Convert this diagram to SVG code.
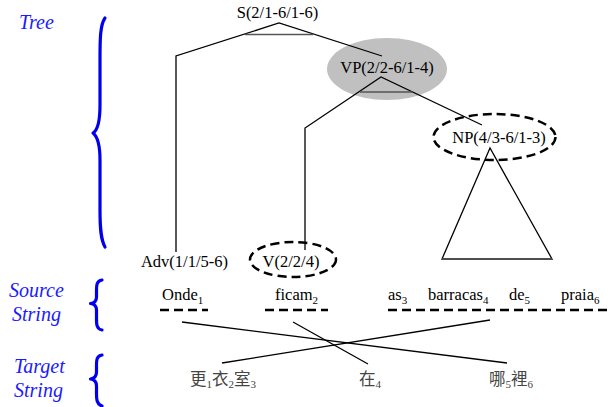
<svg xmlns="http://www.w3.org/2000/svg" width="610" height="407" viewBox="0 0 610 407">
<style>
.lbl{font-family:"Liberation Serif","Times New Roman",serif;font-size:16.5px;fill:#000}
.side{font-family:"Liberation Serif","Times New Roman",serif;font-size:20px;font-style:italic;fill:#1a1aff}
.word{font-family:"Liberation Serif","Times New Roman",serif;font-size:16.5px;fill:#000}
.tgt{font-family:"Liberation Serif","Noto Sans CJK TC",serif;font-size:16.5px;fill:#444}
.sub{font-size:11px}
.edge{fill:none;stroke:#000;stroke-width:1.3}
.bar{stroke:#555;stroke-width:1.5}
.dash{fill:none;stroke:#000;stroke-width:2.5;stroke-dasharray:9,5}
.brace{fill:none;stroke:#0000ee;stroke-width:3.2;stroke-linecap:round;stroke-linejoin:round}
</style>

<g id="labels">
<text class="side" x="19" y="29">Tree</text>
<text class="side" x="9" y="297">Source</text>
<text class="side" x="12" y="321">String</text>
<text class="side" x="14" y="373">Target</text>
<text class="side" x="14" y="397">String</text>
</g>

<g id="braces">
<path class="brace" d="M105,18 C100,25 100,40 100,60 L100,105 C100,122 98,130 93,133 C98,137 100,145 100,160 L100,210 C100,230 101,240 105,247" stroke-width="3"/>
<path class="brace" d="M102,280 C96,281 96.5,286 96.5,292 L96.5,297 C96.5,301 94.5,303 90.5,303.5 C94.5,304 96.5,306 96.5,310 L96.5,317 C96.5,323 96,329 102,330"/>
<path class="brace" d="M102,355 C96,356 96.5,361 96.5,367 L96.5,372 C96.5,376 94.5,378.5 90.5,379 C94.5,379.5 96.5,382 96.5,386 L96.5,392 C96.5,398 96,404 102,406"/>
</g>

<g id="node-VP">
<ellipse cx="387" cy="69" rx="60" ry="31" fill="#c0c0c0"/>
<text class="lbl" x="387" y="73" text-anchor="middle">VP(2/2-6/1-4)</text>
</g>

<g id="connectors">
<polyline class="edge" points="176,252 176,56 279,23 382,56"/>
<line class="bar" x1="245" y1="34.5" x2="313" y2="34.5"/>
<polyline class="edge" points="305,250 305,128 381,77 482,125"/>
<line class="bar" x1="360" y1="92" x2="412" y2="92"/>
<polygon class="edge" points="490,148 442,259 552,259"/>
<line class="bar" x1="442" y1="259" x2="552" y2="259"/>
<line class="edge" x1="182" y1="322" x2="507" y2="363"/>
<line class="edge" x1="293" y1="322" x2="368" y2="364"/>
<line class="edge" x1="490" y1="320" x2="222" y2="363"/>
</g>

<g id="node-S">
<text class="lbl" x="277.5" y="18" text-anchor="middle">S(2/1-6/1-6)</text>
</g>
<g id="node-NP">
<ellipse cx="494.5" cy="137" rx="61" ry="23" fill="none" stroke="#000" stroke-width="2.5" stroke-dasharray="9,5"/>
<text class="lbl" x="499" y="143" text-anchor="middle">NP(4/3-6/1-3)</text>
</g>
<g id="node-Adv">
<text class="lbl" x="184.5" y="267" text-anchor="middle">Adv(1/1/5-6)</text>
</g>
<g id="node-V">
<ellipse cx="293" cy="259.5" rx="43" ry="17.5" fill="none" stroke="#000" stroke-width="2.5" stroke-dasharray="9,5"/>
<text class="lbl" x="291" y="267" text-anchor="middle">V(2/2/4)</text>
</g>

<g id="source">
<text class="word" x="162" y="300">Onde<tspan class="sub" dy="4">1</tspan></text>
<text class="word" x="275" y="300">ficam<tspan class="sub" dy="4">2</tspan></text>
<text class="word" x="388" y="300">as<tspan class="sub" dy="4">3</tspan></text>
<text class="word" x="428" y="300">barracas<tspan class="sub" dy="4">4</tspan></text>
<text class="word" x="509" y="300">de<tspan class="sub" dy="4">5</tspan></text>
<text class="word" x="561" y="300">praia<tspan class="sub" dy="4">6</tspan></text>
<line class="dash" x1="160" y1="310" x2="208" y2="310"/>
<line class="dash" x1="265" y1="310" x2="328" y2="310"/>
<line class="dash" x1="388" y1="310" x2="610" y2="310"/>
</g>

<g id="target">
<text class="tgt" x="190" y="385">更<tspan class="sub" dy="3">1</tspan><tspan dy="-3">衣</tspan><tspan class="sub" dy="3">2</tspan><tspan dy="-3">室</tspan><tspan class="sub" dy="3">3</tspan></text>
<text class="tgt" x="359" y="385">在<tspan class="sub" dy="3">4</tspan></text>
<text class="tgt" x="489" y="385">哪<tspan class="sub" dy="3">5</tspan><tspan dy="-3">裡</tspan><tspan class="sub" dy="3">6</tspan></text>
</g>
</svg>
